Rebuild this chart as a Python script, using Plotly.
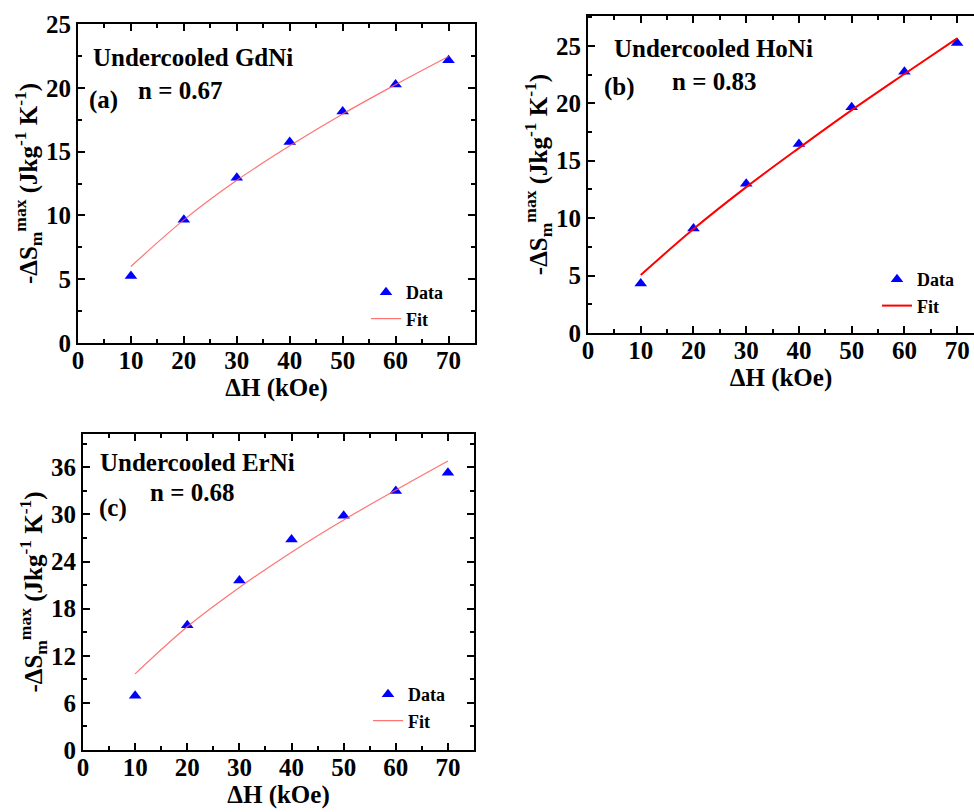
import plotly.graph_objects as go

# ---- data ----
field = [10, 20, 30, 40, 50, 60, 70]  # ΔH (kOe)

gdni_data = [5.25, 9.65, 12.95, 15.75, 18.15, 20.25, 22.15]
gdni_fit = [6.0, 9.65, 12.75, 15.45, 17.95, 20.25, 22.45]

honi_data = [4.3, 9.1, 13.0, 16.45, 19.65, 22.75, 25.25]
honi_fit = [5.05, 9.05, 12.7, 16.1, 19.4, 22.55, 25.65]

erni_data = [6.9, 15.9, 21.6, 26.8, 29.85, 33.0, 35.3]
erni_fit = [9.7, 15.7, 20.7, 25.2, 29.3, 33.1, 36.8]

panels = [
    dict(name="Undercooled GdNi", n="n = 0.67", label="(a)", data=gdni_data, fit=gdni_fit),
    dict(name="Undercooled HoNi", n="n = 0.83", label="(b)", data=honi_data, fit=honi_fit),
    dict(name="Undercooled ErNi", n="n = 0.68", label="(c)", data=erni_data, fit=erni_fit),
]

FONT = "Liberation Serif"
W, H = 974, 812

def px(x):
    return x / W

def py(y):
    return 1 - y / H

fig = go.Figure()

geo = [
    dict(x0=78, x1=475, y0=24, y1=343, xr=[0, 75], yr=[0, 25], dy=5, mdy=2.5,
         fitw=1.2, fitc="rgba(255,90,90,0.85)", mirror_y="ticks"),
    dict(x0=588, x1=974, y0=16, y1=333, xr=[0, 73.2], yr=[0, 27.6], dy=5, mdy=2.5,
         fitw=2, fitc="#ff0000", mirror_y=False),
    dict(x0=83, x1=474, y0=434, y1=750, xr=[0, 75], yr=[0, 40.25], dy=6, mdy=3,
         fitw=1.2, fitc="rgba(255,90,90,0.85)", mirror_y="ticks"),
]

legpos = [(366, 274), (877, 261), (368, 676)]
textpos = [
    [(91, 58, 0), (136, 90, 1), (87, 100, 2)],
    [(612, 49, 0), (670, 81, 1), (602, 87, 2)],
    [(98, 462, 0), (148, 493, 1), (97, 508, 2)],
]

TXT = dict(family=FONT, size=25, color="black", weight="bold")

for i, (p, g) in enumerate(zip(panels, geo)):
    k = "" if i == 0 else str(i + 1)
    leg = "legend" if i == 0 else f"legend{i+1}"
    fig.add_trace(go.Scatter(
        x=field, y=p["data"], mode="markers", name="Data",
        marker=dict(symbol="triangle-up", size=11, color="#0000ff"),
        xaxis="x" + k, yaxis="y" + k, legend=leg))
    fig.add_trace(go.Scatter(
        x=field, y=p["fit"], mode="lines", name="Fit",
        line=dict(color=g["fitc"], width=g["fitw"], shape="spline", smoothing=1.0),
        xaxis="x" + k, yaxis="y" + k, legend=leg))

    axis_common = dict(
        showline=True, linecolor="black", linewidth=2,
        ticks="inside", ticklen=7, tickwidth=2, tickcolor="black",
        showgrid=False, zeroline=False, automargin=False,
        tickfont=dict(family=FONT, size=25, color="black", weight="bold"),
        minor=dict(ticks="inside", ticklen=4, tickwidth=1.5, tickcolor="black"),
    )
    xa = dict(axis_common,
              domain=[px(g["x0"]), px(g["x1"])], range=g["xr"],
              tick0=0, dtick=10, mirror="ticks", ticklabelstandoff=-6,
              minor=dict(axis_common["minor"], dtick=5, tick0=0),
              anchor="y" + k,
              title=dict(text="ΔH (kOe)", standoff=0,
                         font=dict(family=FONT, size=25, color="black", weight="bold")))
    ya = dict(axis_common,
              domain=[py(g["y1"]), py(g["y0"])], range=g["yr"],
              tick0=0, dtick=g["dy"], mirror=g["mirror_y"],
              minor=dict(axis_common["minor"], dtick=g["mdy"], tick0=0),
              anchor="x" + k,
              title=dict(text="-ΔS<sub>m</sub><sup>max</sup> (Jkg<sup>-1</sup> K<sup>-1</sup>)",
                         standoff=0,
                         font=dict(family=FONT, size=25, color="black", weight="bold")))
    fig.update_layout({"xaxis" + k: xa, "yaxis" + k: ya})

    lx, ly = legpos[i]
    fig.update_layout({leg: dict(
        x=px(lx), y=py(ly), xanchor="left", yanchor="top",
        bgcolor="rgba(0,0,0,0)", borderwidth=0,
        font=dict(family=FONT, size=18, color="black", weight="bold"),
        itemwidth=30, tracegroupgap=0)})

    texts = [p["name"], p["n"], p["label"]]
    for (tx, ty, ti) in textpos[i]:
        fig.add_annotation(
            x=px(tx), y=py(ty), xref="paper", yref="paper",
            xanchor="left", yanchor="middle", showarrow=False,
            text=texts[ti], font=TXT)

fig.update_layout(
    width=W, height=H, margin=dict(l=0, r=0, t=0, b=0),
    paper_bgcolor="white", plot_bgcolor="white",
    showlegend=True,
    font=dict(family=FONT, color="black"),
)

fig.write_html("out.html")
